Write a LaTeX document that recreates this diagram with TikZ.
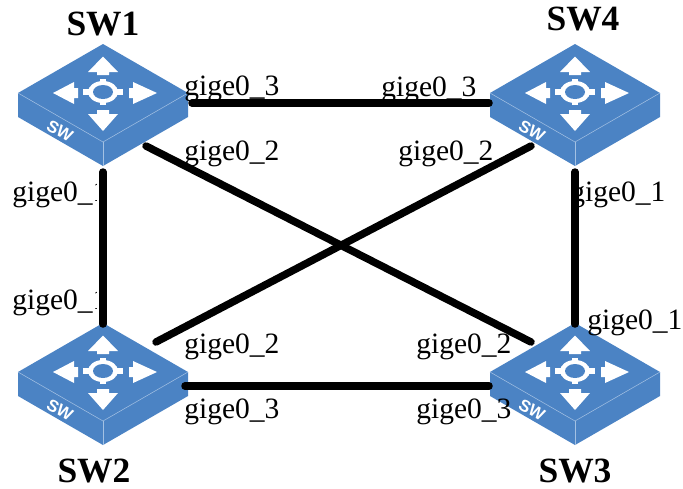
\documentclass[tikz,border=0pt]{standalone}
\usepackage{fontspec}
\setmainfont{Liberation Serif}
\newfontfamily\iconfont{Liberation Sans}
\usetikzlibrary{calc}
\definecolor{swblue}{HTML}{4B83C4}
\definecolor{swedge}{HTML}{A3C1E3}
\tikzset{
	linkline/.style={line width=0.15cm, line cap=round, color=black},
	linkmask/.style={line width=0.24cm, color=white},
	portlabel/.style={anchor=base west, inner sep=0pt, font=\fontsize{16.8}{18}\selectfont},
	titlelabel/.style={anchor=base, inner sep=0pt, font=\fontsize{20.2}{22}\selectfont\bfseries},
}
\def\switchicon(#1,#2)#3{
	\begin{scope}[shift={(#1,#2)}]
		\fill[swblue] (-85, 0) -- (0, -49) -- (85, 0) -- (85, 24) -- (0, 73) -- (-85, 24) -- cycle;
		\draw[swedge, line width=0.3pt] (-85, 0) -- (0, 49) -- (85, 0);
		\draw[swedge, line width=0.3pt] (0, 49) -- (0, 73);
		\fill[white] (0, -36.5) -- (15, -21) -- (6, -21) -- (6, -18) -- (-6, -18) -- (-6, -21) -- (-15, -21) -- cycle;
		\fill[white] (0, 38) -- (15, 21) -- (6, 21) -- (6, 17) -- (-6, 17) -- (-6, 21) -- (-15, 21) -- cycle;
		\fill[white] (-50, 0) -- (-29, -11) -- (-29, -5) -- (-25, -5) -- (-25, 5) -- (-29, 5) -- (-29, 11) -- cycle;
		\fill[white] (54, 0) -- (30, -11) -- (30, -5) -- (26, -5) -- (26, 5) -- (30, 5) -- (30, 11) -- cycle;
		\fill[white] (0, -1) ellipse (15 and 11);
		\fill[white] (-20, -4) rectangle (20, 2);
		\fill[white] (-3, -14) rectangle (3, 12);
		\fill[swblue] (0, -1) ellipse (10 and 7);
		\node[rotate=-30, text=white, inner sep=0pt, font=\iconfont\bfseries\fontsize{9.5}{10}\selectfont] (#3txt) at (-43, 38) {SW};
	\end{scope}
}

\begin{document}
\begin{tikzpicture}[x=0.02cm, y=-0.02cm]
	%%%%% START %%%%%
	\useasboundingbox (0, 0) rectangle (683, 488);

	\switchicon(103,93){swa}
	\switchicon(575,93){swd}
	\switchicon(103,372){swb}
	\switchicon(575,372){swc}

	\node[titlelabel] (swaname) at (103, 35) {SW1};
	\node[titlelabel] (swdname) at (583, 30) {SW4};
	\node[titlelabel] (swbname) at (94, 482) {SW2};
	\node[titlelabel] (swcname) at (575, 482) {SW3};

	\node[portlabel] (swaport3) at (184, 95) {gige0\_3};
	\node[portlabel] (swaport2) at (184, 160) {gige0\_2};
	\node[portlabel] (swaport1) at (12, 201) {gige0\_1};

	\node[portlabel] (swdport3) at (381, 96) {gige0\_3};
	\node[portlabel] (swdport2) at (398, 160) {gige0\_2};
	\node[portlabel] (swdport1) at (570, 201) {gige0\_1};

	\node[portlabel] (swbport1) at (12, 309) {gige0\_1};
	\node[portlabel] (swbport2) at (184, 353) {gige0\_2};
	\node[portlabel] (swbport3) at (184, 418) {gige0\_3};

	\node[portlabel] (swcport1) at (587, 329) {gige0\_1};
	\node[portlabel] (swcport2) at (416, 353) {gige0\_2};
	\node[portlabel] (swcport3) at (416, 418) {gige0\_3};

	\coordinate (swae) at (192, 103);
	\coordinate (swas) at (103, 172);
	\coordinate (swax) at (146, 146);
	\coordinate (swdw) at (489, 103);
	\coordinate (swds) at (575, 172);
	\coordinate (swdx) at (531, 146);
	\coordinate (swbn) at (103, 324);
	\coordinate (swbx) at (156, 342);
	\coordinate (swbe) at (185, 386);
	\coordinate (swcn) at (575, 324);
	\coordinate (swcx) at (531, 342);
	\coordinate (swcw) at (489, 386);

	\draw[linkmask] (swas) -- (swbn);
	\draw[linkline] (swae) -- (swdw);
	\draw[linkline] (swas) -- (swbn);
	\draw[linkline] (swax) -- (swcx);
	\draw[linkline] (swdx) -- (swbx);
	\draw[linkline] (swds) -- (swcn);
	\draw[linkline] (swbe) -- (swcw);
	%%%%% END %%%%%
\end{tikzpicture}
\end{document}
